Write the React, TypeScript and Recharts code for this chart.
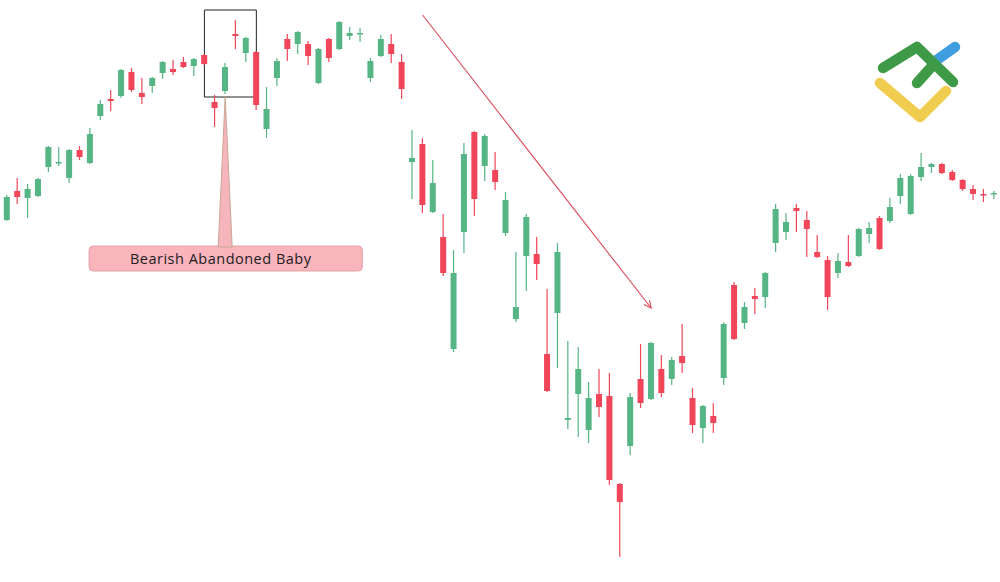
import { ComposedChart, Bar, XAxis, YAxis, ReferenceArea, ReferenceLine } from 'recharts'

// candle values (price units, 96 sessions)
const openP = [
  362, 391, 384, 386, 415, 419, 404, 432, 419, 466, 483, 486, 510, 489, 496, 509, 513, 520, 516, 527,
  480, 491, 548, 529, 530, 453, 504, 543, 538, 538, 499, 543, 533, 546, 548, 504, 526, 538, 520, 420,
  438, 370, 345, 233, 350, 450, 416, 412, 349, 263, 326, 328, 228, 269, 162, 188, 152, 188, 186, 98,
  136, 203, 183, 213, 203, 226, 184, 154, 166, 204, 297, 259, 286, 285, 339, 350, 374, 362, 330, 322,
  309, 320, 326, 348, 364, 361, 386, 368, 405, 415, 418, 410, 402, 393, 388, 388,
]
const highP = [
  387, 404, 398, 404, 436, 435, 433, 436, 454, 482, 492, 513, 514, 504, 505, 521, 522, 525, 524, 528,
  487, 519, 562, 545, 531, 495, 524, 548, 551, 541, 534, 544, 561, 555, 554, 524, 547, 548, 528, 452,
  444, 422, 368, 332, 439, 451, 448, 430, 390, 330, 368, 345, 293, 339, 241, 235, 200, 213, 209, 99,
  189, 238, 240, 227, 225, 258, 194, 177, 179, 260, 300, 280, 294, 310, 378, 369, 378, 371, 347, 326,
  329, 347, 354, 360, 366, 384, 408, 408, 429, 419, 419, 412, 403, 397, 393, 391,
]
const lowP = [
  361, 378, 364, 385, 410, 416, 399, 422, 418, 462, 471, 484, 490, 478, 489, 503, 507, 514, 506, 517,
  455, 488, 533, 520, 472, 444, 496, 521, 528, 517, 498, 520, 532, 542, 540, 500, 525, 519, 483, 383,
  369, 369, 306, 230, 329, 366, 401, 392, 346, 260, 291, 302, 190, 214, 153, 145, 139, 165, 97, 25,
  127, 174, 182, 185, 197, 209, 149, 139, 149, 197, 242, 253, 268, 274, 330, 342, 350, 325, 324, 272,
  304, 315, 325, 339, 332, 359, 378, 367, 401, 409, 408, 401, 391, 382, 380, 383,
]
const closeP = [
  385, 385, 393, 403, 435, 420, 432, 425, 448, 478, 481, 512, 492, 485, 504, 520, 510, 515, 523, 518,
  474, 515, 546, 544, 477, 473, 521, 533, 550, 526, 533, 524, 560, 549, 549, 521, 543, 528, 493, 424,
  377, 399, 309, 309, 428, 383, 446, 400, 382, 275, 365, 318, 191, 330, 164, 213, 184, 175, 102, 80,
  185, 179, 239, 189, 222, 219, 157, 176, 159, 258, 243, 275, 283, 309, 373, 360, 371, 353, 325, 285,
  321, 316, 353, 354, 333, 375, 404, 406, 415, 418, 409, 402, 393, 388, 387, 389,
]

const UP = '#55b584'
const DOWN = '#f1465a'

const data = openP.map((o, i) => ({
  i,
  open: o,
  close: closeP[i],
  range: [lowP[i], highP[i]],
}))

const Candle = (props: any) => {
  const { x, y, width, height, payload } = props
  if (!payload) return null
  const [lo, hi] = payload.range
  const top = Math.min(y, y + height)
  const bot = Math.max(y, y + height)
  const toY = (v: number) => top + ((hi - v) / (hi - lo || 1)) * (bot - top)
  const up = payload.close >= payload.open
  const color = up ? UP : DOWN
  const cx = x + width / 2
  const bTop = toY(Math.max(payload.open, payload.close))
  const bBot = toY(Math.min(payload.open, payload.close))
  return (
    <g>
      <line x1={cx} x2={cx} y1={top} y2={bot} stroke={color} strokeWidth={1.2} />
      <rect x={x} y={bTop} width={width} height={Math.max(bBot - bTop, 1.5)} fill={color} />
    </g>
  )
}

const Arrow = (p: any) => {
  const { x1, y1, x2, y2 } = p
  const ang = Math.atan2(y2 - y1, x2 - x1)
  const len = 8
  const a1 = ang + Math.PI - 0.45
  const a2 = ang + Math.PI + 0.45
  const pts = `${x2 + len * Math.cos(a1)},${y2 + len * Math.sin(a1)} ${x2},${y2} ${x2 + len * Math.cos(a2)},${y2 + len * Math.sin(a2)}`
  return (
    <g>
      <line x1={x1} y1={y1} x2={x2} y2={y2} stroke="#dc4a5c" strokeWidth={1.1} />
      <polyline points={pts} fill="none" stroke="#dc4a5c" strokeWidth={1.1} />
    </g>
  )
}

const Pointer = (p: any) => {
  const { x1, y1, x2, y2 } = p
  return (
    <polygon
      points={`${x1},${y1} ${x2 - 7},${y2 + 1} ${x2 + 7},${y2 + 1}`}
      fill="#f6b5bc"
      stroke="#c9a793"
      strokeWidth={1}
    />
  )
}

const LabelBox = (p: any) => {
  const { x, y, width, height } = p
  return (
    <g>
      <rect x={x} y={y} width={width} height={height} rx={4} fill="#f9b4bc" stroke="#e8a2aa" strokeWidth={1} />
      <text
        x={x + width / 2 - 5}
        y={y + height / 2 + 5}
        textAnchor="middle"
        fontFamily="'Open Sans', sans-serif"
        fontSize={14.5}
        fontWeight={500}
        letterSpacing={0.5}
        fill="#1c1c1c"
      >
        Bearish Abandoned Baby
      </text>
    </g>
  )
}

const Logo = () => (
  <svg width={1000} height={582} style={{ position: 'absolute', left: 0, top: 0, pointerEvents: 'none' }}>
    <g fill="none" strokeLinecap="round" strokeLinejoin="round" strokeWidth={10.5}>
      <polyline points="880,83 920,117 946,91" stroke="#f0cd4f" />
      <line x1={934} y1={62} x2={955} y2={47} stroke="#3f9ee0" />
      <line x1={917} y1={83} x2={934} y2={64} stroke="#3f9a48" />
      <polyline points="883,68 917,47 953,82" stroke="#3f9a48" />
    </g>
  </svg>
)

export default function App() {
  return (
    <div style={{ position: 'absolute', left: 0, top: 0, width: 1000, height: 582, background: '#fff' }}>
      <ComposedChart
        width={1000}
        height={582}
        data={data}
        margin={{ top: 0, right: 0.8, bottom: 0, left: 1.8 }}
      >
        <XAxis type="number" dataKey="i" domain={[-0.5, 95.5]} allowDataOverflow hide />
        <YAxis type="number" domain={[0, 582]} allowDataOverflow hide />
        <Bar dataKey="range" barSize={6} shape={<Candle />} isAnimationActive={false} />
        <ReferenceArea x1={19} x2={24} y1={485} y2={572} fill="none" fillOpacity={0} stroke="#222" strokeWidth={1} ifOverflow="visible" />
        <ReferenceLine segment={[{ x: 21, y: 485 }, { x: 21, y: 336 }]} shape={<Pointer />} ifOverflow="visible" />
        <ReferenceArea x1={7.9} x2={34.2} y1={311} y2={336} shape={<LabelBox />} ifOverflow="visible" />
        <ReferenceLine segment={[{ x: 40, y: 567 }, { x: 62, y: 274 }]} shape={<Arrow />} ifOverflow="visible" />
      </ComposedChart>
      <Logo />
    </div>
  )
}
